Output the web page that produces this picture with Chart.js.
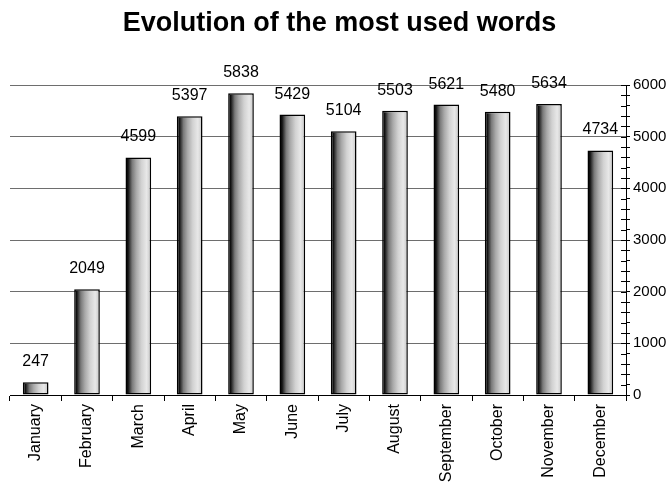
<!DOCTYPE html>
<html>
<head>
<meta charset="utf-8">
<script src="https://cdn.jsdelivr.net/npm/chart.js@4/dist/chart.umd.min.js"></script>
<style>
  html, body { margin: 0; padding: 0; background: #fff; }
  #wrap { width: 669px; height: 487px; }
</style>
</head>
<body>
<div id="wrap"><canvas id="c" width="669" height="487"></canvas></div>
<script>
// Monthly counts of the most used words
const months = ['January', 'February', 'March', 'April', 'May', 'June',
                'July', 'August', 'September', 'October', 'November', 'December'];
const wordCounts = [247, 2049, 4599, 5397, 5838, 5429, 5104, 5503, 5621, 5480, 5634, 4734];
const axisMin = 0;
const axisMax = 6000;
const majorStep = 1000;
const minorStep = 200;

const FONT = '"Liberation Sans", Arial, sans-serif';
const BAR_PCT = 0.5;

// Horizontal shading across each bar: dark left edge fading to light grey
function barFill(ctx) {
  const chart = ctx.chart;
  const xs = chart.scales && chart.scales.x;
  if (!chart.chartArea || !xs || ctx.dataIndex === undefined) return '#bbb';
  const cx = xs.getPixelForValue(ctx.dataIndex);
  const w = (xs.width / months.length) * BAR_PCT;
  if (!isFinite(cx) || !isFinite(w)) return '#bbb';
  const left = cx - w / 2;
  const right = cx + w / 2;
  const g = chart.ctx.createLinearGradient(left, 0, right, 0);
  g.addColorStop(0.00, '#000');
  g.addColorStop(0.10, '#111');
  g.addColorStop(0.16, '#3a3a3a');
  g.addColorStop(0.26, '#7a7a7a');
  g.addColorStop(0.42, '#a9a9a9');
  g.addColorStop(0.62, '#d2d2d2');
  g.addColorStop(0.82, '#e8e8e8');
  g.addColorStop(1.00, '#c4c4c4');
  return g;
}

// Value labels above bars and crossing minor ticks on the right axis
const extras = {
  id: 'extras',
  afterDatasetsDraw(chart) {
    const c = chart.ctx;
    const meta = chart.getDatasetMeta(0);
    c.save();
    c.font = '16px ' + FONT;
    c.fillStyle = '#000';
    c.textAlign = 'center';
    c.textBaseline = 'alphabetic';
    meta.data.forEach((bar, i) => {
      c.fillText(String(wordCounts[i]), bar.x, bar.y - 16);
    });
    c.restore();
  },
  afterDraw(chart) {
    const y = chart.scales.y;
    const c = chart.ctx;
    c.save();
    c.strokeStyle = '#000';
    c.lineWidth = 1;
    for (let v = axisMin; v <= axisMax; v += minorStep) {
      const py = Math.round(y.getPixelForValue(v)) + 0.5;
      c.beginPath();
      c.moveTo(y.left - 5, py);
      c.lineTo(y.left, py);
      c.stroke();
    }
    c.restore();
  }
};

new Chart(document.getElementById('c'), {
  type: 'bar',
  data: {
    labels: months,
    datasets: [{
      data: wordCounts,
      backgroundColor: barFill,
      borderColor: '#000',
      borderWidth: 1.5,
      borderSkipped: false,
      categoryPercentage: 1.0,
      barPercentage: BAR_PCT
    }]
  },
  options: {
    responsive: false,
    animation: false,
    devicePixelRatio: 1,
    layout: { padding: { left: 10, right: 0, top: 0, bottom: 0 } },
    plugins: {
      legend: { display: false },
      tooltip: { enabled: false },
      title: {
        display: true,
        text: 'Evolution of the most used words',
        color: '#000',
        font: { family: FONT, size: 27, weight: 'bold' },
        padding: { top: 7, bottom: 45.6 }
      }
    },
    scales: {
      x: {
        offset: true,
        border: { display: true, color: '#000', width: 1 },
        grid: {
          offset: true,
          drawOnChartArea: false,
          drawTicks: true,
          tickLength: 6,
          tickColor: '#000'
        },
        ticks: {
          color: '#000',
          font: { family: FONT, size: 16 },
          minRotation: 90,
          maxRotation: 90,
          padding: 3,
          autoSkip: false
        },
        afterFit(scale) { scale.height = 92; }
      },
      y: {
        position: 'right',
        min: axisMin,
        max: axisMax,
        border: { display: true, color: '#000', width: 1 },
        grid: {
          color: (ctx) => (ctx.tick && ctx.tick.value % majorStep === 0) ? '#6e6e6e' : 'rgba(0,0,0,0)',
          tickColor: '#000',
          tickLength: 4,
          lineWidth: 1
        },
        ticks: {
          stepSize: minorStep,
          autoSkip: false,
          color: '#000',
          padding: 3,
          font: { family: FONT, size: 15 },
          callback: (v) => (v % majorStep === 0 ? String(v) : '')
        },
        afterFit(scale) { scale.width = 43; }
      }
    }
  },
  plugins: [extras]
});
</script>
</body>
</html>
